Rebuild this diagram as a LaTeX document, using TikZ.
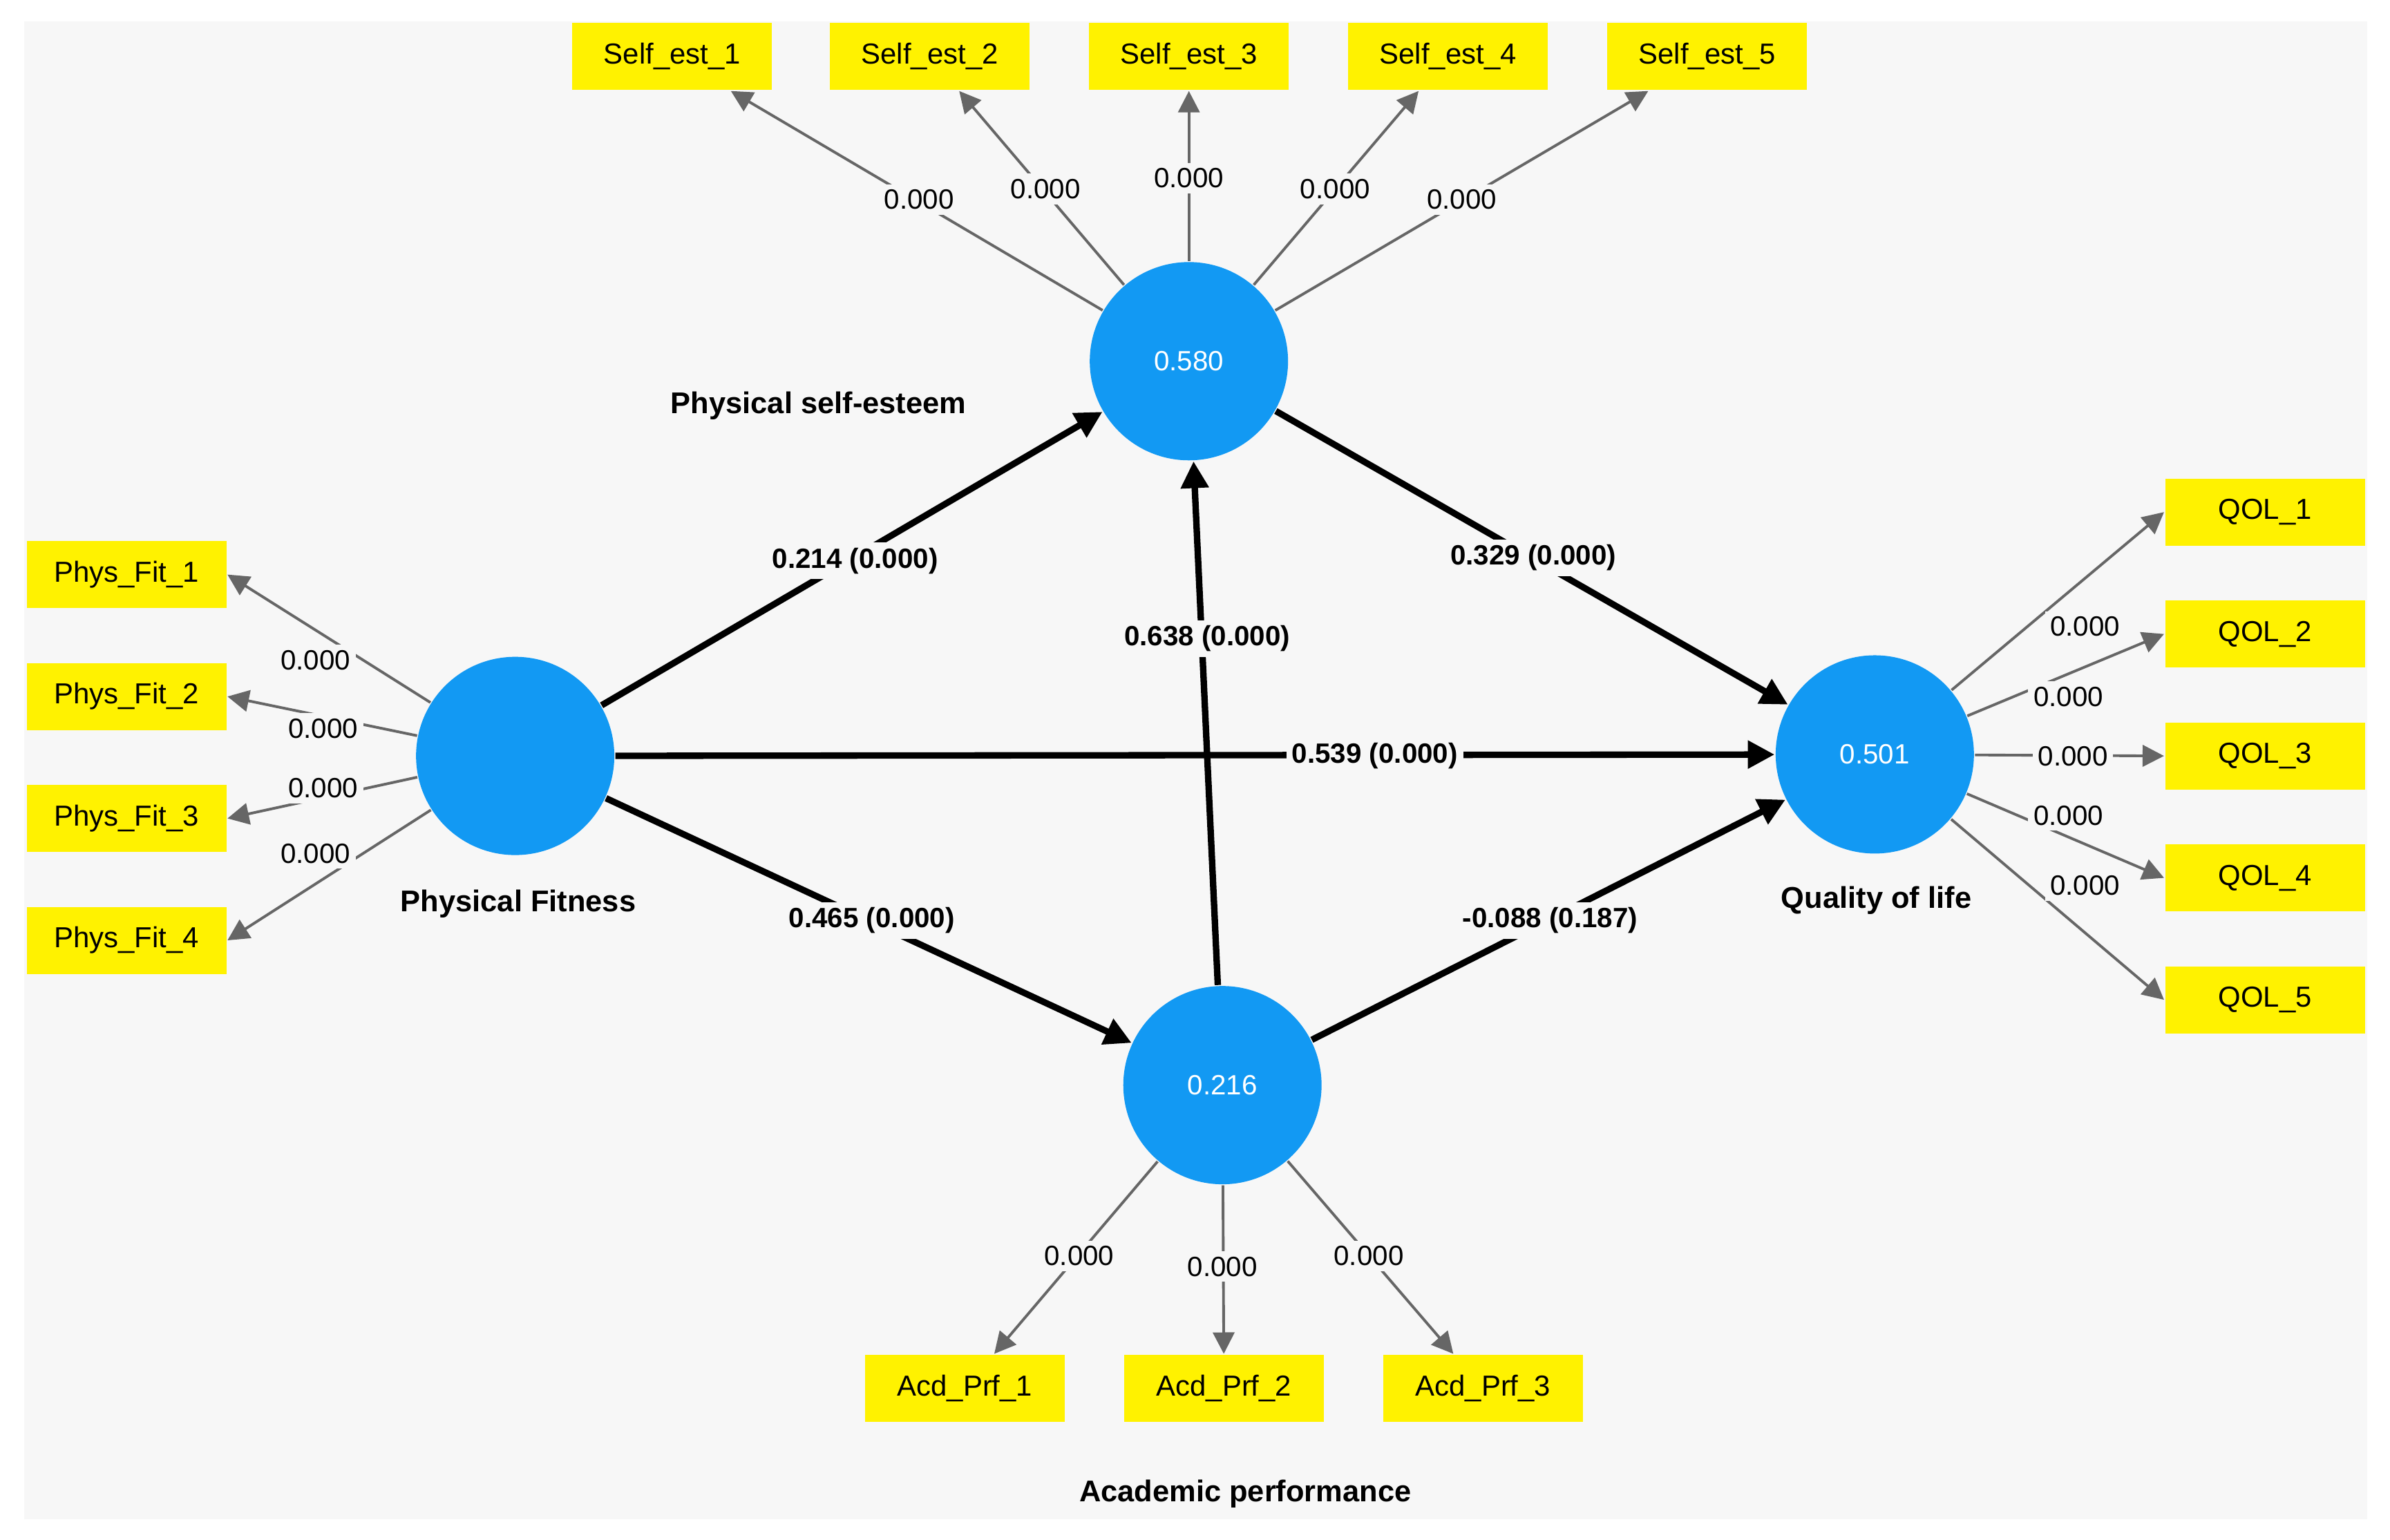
\documentclass[tikz,border=0pt]{standalone}
\usepackage{fontspec}
\setmainfont{Liberation Sans}
\usetikzlibrary{arrows.meta}
\definecolor{bg}{RGB}{247,247,247}
\definecolor{lv}{RGB}{18,153,243}
\definecolor{ind}{RGB}{255,242,0}
\begin{document}
\begin{tikzpicture}[x=0.01cm,y=-0.01cm,
  lat/.style={circle,fill=lv,minimum size=1.3cm,inner sep=0pt,text=white,font=\fontsize{5.2}{6}\selectfont},
  box/.style={rectangle,fill=ind,minimum width=1.31cm,minimum height=0.44cm,font=\fontsize{5.4}{6}\selectfont},
  ld/.style={draw=black!60,line width=0.5pt,-{Triangle[length=4pt,width=4pt]},color=black!60},
  ldl/.style={fill=bg,inner sep=1pt,text=black,font=\fontsize{5.2}{6}\selectfont},
  st/.style={draw=black,line width=1.2pt,-{Triangle[length=5pt,width=5pt]}},
  stl/.style={fill=bg,inner sep=1pt,font=\bfseries\fontsize{5.2}{6}\selectfont},
  ttl/.style={font=\bfseries\fontsize{5.6}{6}\selectfont}]
\useasboundingbox (0,0) rectangle (1568,1010);
\fill[white] (0,0) rectangle (1568,1010);
\fill[bg] (16,14) rectangle (1553,997);
\node[lat] (pse) at (780,237) {0.580};
\node[lat] (pf) at (338,496) {};
\node[lat] (qol) at (1230,495) {0.501};
\node[lat] (ap) at (802,712) {0.216};
\foreach \i/\x in {1/441,2/610,3/780,4/950,5/1120} \node[box] (se\i) at (\x,37) {Self\_est\_\i};
\foreach \i/\y in {1/377,2/457,3/537,4/617} \node[box] (fit\i) at (83,\y) {Phys\_Fit\_\i};
\foreach \i/\y in {1/336,2/416,3/496,4/576,5/656} \node[box] (q\i) at (1486,\y) {QOL\_\i};
\foreach \i/\x in {1/633,2/803,3/973} \node[box] (a\i) at (\x,911) {Acd\_Prf\_\i};
% loadings
\foreach \i/\lx/\ly in {1/603/131,2/686/124,3/780/117,4/876/124,5/959/131}{
  \draw[ld] (pse) -- (se\i);
  \node[ldl] (lse\i) at (\lx,\ly) {0.000};}
\foreach \i/\lx/\ly in {1/207/433,2/212/478,3/212/517,4/207/560}{
  \draw[ld] (pf) -- (fit\i.east);
  \node[ldl] (lfit\i) at (\lx,\ly) {0.000};}
\foreach \i/\lx/\ly in {1/1368/411,2/1357/457,3/1360/496,4/1357/535,5/1368/581}{
  \draw[ld] (qol) -- (q\i.west);
  \node[ldl] (lq\i) at (\lx,\ly) {0.000};}
\foreach \i/\lx/\ly in {1/708/824,2/802/831,3/898/824}{
  \draw[ld] (ap) -- (a\i);
  \node[ldl] (la\i) at (\lx,\ly) {0.000};}
% structural
\draw[st] (pf) -- (pse);
\draw[st] (pse) -- (qol);
\draw[st] (pf) -- (qol);
\draw[st] (ap) -- (pse);
\draw[st] (pf) -- (ap);
\draw[st] (ap) -- (qol);
\node[stl] (l1) at (561,368) {0.214 (0.000)};
\node[stl] (l2) at (1006,366) {0.329 (0.000)};
\node[stl] (l3) at (902,496) {0.539 (0.000)};
\node[stl] (l4) at (792,419) {0.638 (0.000)};
\node[stl] (l5) at (572,604) {0.465 (0.000)};
\node[stl] (l6) at (1017,604) {-0.088 (0.187)};
\node[ttl] (t1) at (537,266) {Physical self-esteem};
\node[ttl] (t2) at (340,593) {Physical Fitness};
\node[ttl] (t3) at (1231,591) {Quality of life};
\node[ttl] (t4) at (817,980) {Academic performance};
\end{tikzpicture}
\end{document}
